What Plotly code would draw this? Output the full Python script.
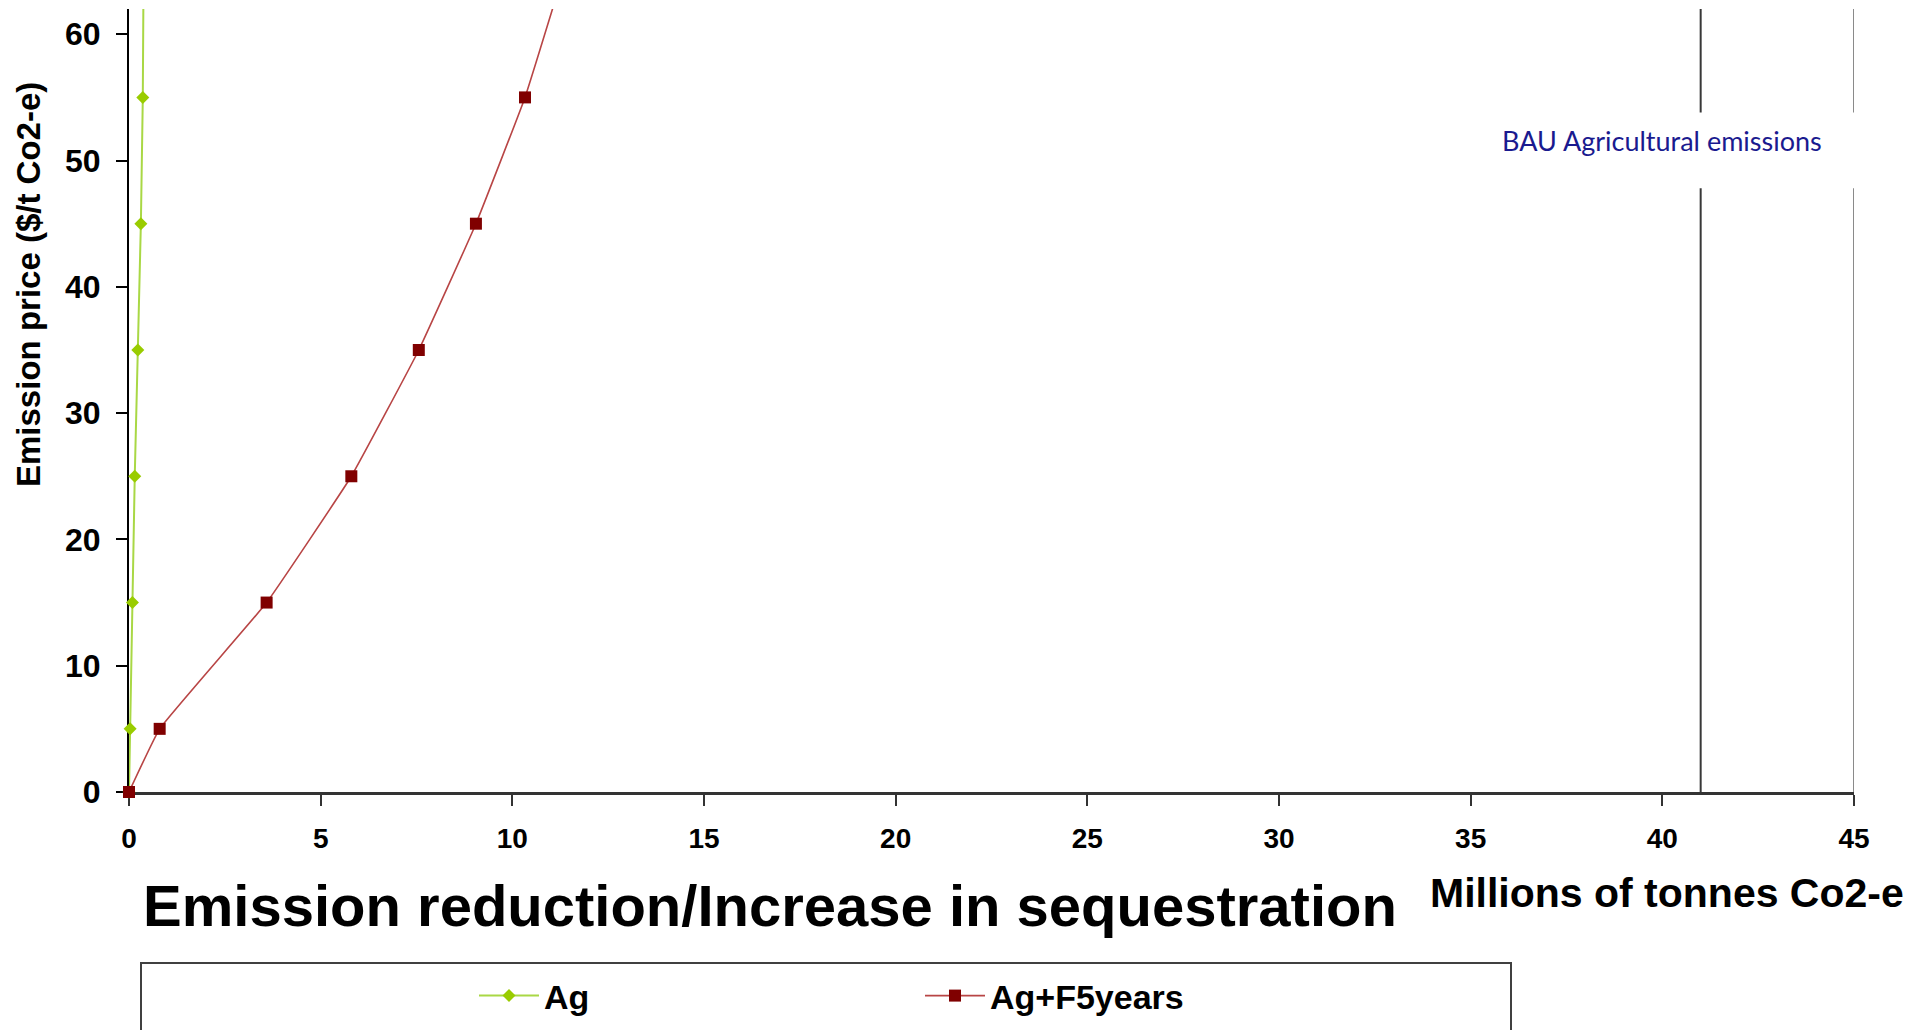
import plotly.graph_objects as go

# ---- data ----
emission_price = [0, 5, 15, 25, 35, 45, 55, 65]
ag = [0, 0.03, 0.09, 0.15, 0.23, 0.31, 0.36, 0.38]
ag_f5years = [0, 0.80, 3.59, 5.80, 7.56, 9.05, 10.33, 11.35]

bau_agricultural = 41.0
bau_right = 45.0
y_span = [0, 62]

x_tick_vals = [0, 5, 10, 15, 20, 25, 30, 35, 40, 45]
y_tick_vals = [0, 10, 20, 30, 40, 50, 60]

W, H = 1923, 1030
L, R, T, B = 129, 69, 9, 238

fig = go.Figure()

# vertical reference lines
fig.add_trace(go.Scatter(x=[bau_agricultural, bau_agricultural], y=y_span, mode="lines",
                         line=dict(color="#383838", width=2), showlegend=False, hoverinfo="skip"))
fig.add_trace(go.Scatter(x=[bau_right, bau_right], y=y_span, mode="lines",
                         line=dict(color="#8a8a8a", width=2), showlegend=False, hoverinfo="skip"))

fig.add_trace(go.Scatter(x=ag, y=emission_price, mode="lines+markers", name="Ag",
                         line=dict(color="#a9d845", width=2),
                         marker=dict(symbol="diamond", size=10, color="#99cc00"),
                         cliponaxis=False))
fig.add_trace(go.Scatter(x=ag_f5years, y=emission_price, mode="lines+markers", name="Ag+F5years",
                         line=dict(color="#b84545", width=1.6, shape="spline", smoothing=0.3),
                         marker=dict(symbol="square", size=12, color="#800000"),
                         cliponaxis=False))

axis_font = "Liberation Sans, Arial, sans-serif"

fig.update_xaxes(range=[0, 45], tickvals=x_tick_vals, showgrid=False, zeroline=False,
                 showline=True, linecolor="#333333", linewidth=3,
                 ticks="outside", ticklen=11, tickwidth=2, tickcolor="#333333",
                 tickfont=dict(family=axis_font, size=28, color="black", weight="bold"),
                 ticklabelstandoff=8, layer="below traces")
fig.update_yaxes(range=y_span, tickvals=y_tick_vals, showgrid=False, zeroline=False,
                 showline=True, linecolor="black", linewidth=2,
                 ticks="outside", ticklen=11, tickwidth=2, tickcolor="black",
                 tickfont=dict(family=axis_font, size=32, color="black", weight="bold"),
                 ticklabelstandoff=9, layer="below traces")

pw = W - L - R
ph = H - T - B
def px_x(p):
    return (p - L) / pw
def px_y(p):
    return (H - B - p) / ph

shapes = [
    # white box behind the BAU label (breaks the vertical lines)
    dict(type="rect", xref="x", yref="y", x0=38.8, x1=45.6, y0=47.8, y1=53.8,
         fillcolor="white", line=dict(width=0), layer="above"),
    # legend frame
    dict(type="rect", xref="paper", yref="paper", x0=px_x(141), x1=px_x(1511),
         y0=px_y(1045), y1=px_y(963), line=dict(color="#404040", width=2),
         fillcolor="rgba(0,0,0,0)", layer="above"),
]

annotations = [
    dict(text="BAU Agricultural emissions", x=40.0, y=51.6, xref="x", yref="y",
         showarrow=False, xanchor="center", yanchor="middle",
         font=dict(family="Lato, Open Sans, sans-serif", size=27, color="#1a1a8f")),
    dict(text="Millions of tonnes Co2-e", x=px_x(1667), y=px_y(893), xref="paper", yref="paper",
         showarrow=False, xanchor="center", yanchor="middle",
         font=dict(family=axis_font, size=41, color="black", weight="bold")),
    dict(text="Emission price ($/t Co2-e)", x=px_x(28), y=px_y(285), xref="paper", yref="paper",
         showarrow=False, xanchor="center", yanchor="middle", textangle=-90,
         font=dict(family=axis_font, size=33, color="black", weight="bold")),
]

fig.update_layout(
    width=W, height=H, autosize=False,
    margin=dict(l=L, r=R, t=T, b=B, pad=0, autoexpand=False),
    paper_bgcolor="white", plot_bgcolor="white",
    title=dict(text="Emission reduction/Increase in sequestration",
               x=770 / W, xref="container", xanchor="center",
               y=1 - 906 / H, yref="container", yanchor="middle",
               font=dict(family=axis_font, size=58, color="black", weight="bold")),
    showlegend=True,
    legend=dict(orientation="h", x=px_x(474), y=px_y(967), xanchor="left", yanchor="top",
                xref="paper", yref="paper", bgcolor="rgba(0,0,0,0)", borderwidth=0,
                itemwidth=60, entrywidth=371, entrywidthmode="pixels",
                font=dict(family=axis_font, size=34, color="black", weight="bold")),
    shapes=shapes,
    annotations=annotations,
)

fig.write_html("out.html")
